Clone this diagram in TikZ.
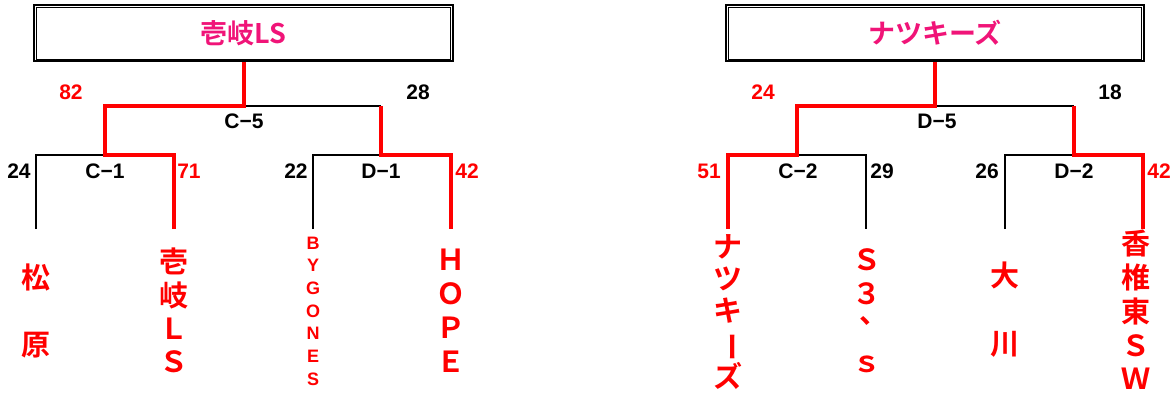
\documentclass[tikz,border=0pt]{standalone}
\usepackage{fontspec}
\usepackage{graphicx}
\setmainfont{Liberation Sans}
\newfontfamily\cjkb{Noto Sans CJK JP Bold}
\definecolor{titlepink}{RGB}{240,20,120}
\newcommand{\vchoon}{\rotatebox[origin=c]{-90}{ー}}
\newcommand{\vtouten}{\makebox[1em][l]{\hspace{0.25em}\raisebox{0.52em}{、}}}
\tikzset{
  blk/.style={line width=2pt, black},
  rd/.style={line width=4pt, red},
  titlebox/.style={draw, line width=2pt, inner sep=0pt, minimum height=56pt,
     text=titlepink, font=\cjkb\fontsize{27}{30}\selectfont},
  innerframe/.style={line width=1pt},
  score/.style={inner sep=0pt, font=\fontsize{21}{21}\selectfont\bfseries},
  win/.style={score, text=red},
  team/.style={align=center, inner sep=0pt, text=red},
  cjkteam/.style={team, font=\cjkb\fontsize{29}{#1}\selectfont},
}
\begin{document}
\begin{tikzpicture}[x=1pt,y=-1pt]
\useasboundingbox (0,0) rectangle (1176,392);

% ---------- left bracket ----------
\node[titlebox, minimum width=418.6pt] (tA) at (243.5,33.2) {壱岐LS};
\draw[innerframe] ([shift={(3,3)}]tA.north west) rectangle ([shift={(-3,-3)}]tA.south east);

\coordinate (A5L) at (105,106);
\coordinate (A5R) at (381,106);
\coordinate (A5) at (tA.south |- A5L);
\coordinate (A1L) at (36,155);
\coordinate (A1M) at (105,155);
\coordinate (A1R) at (174,155);
\coordinate (A2L) at (313,155);
\coordinate (A2M) at (381,155);
\coordinate (A2R) at (451,155);
\coordinate (A1Lb) at (36,229);
\coordinate (A1Rb) at (174,229);
\coordinate (A2Lb) at (313,229);
\coordinate (A2Rb) at (451,229);

\draw[blk] (A5) -- (A5R);
\draw[blk] (A1Lb) -- (A1L) -- (A1M);
\draw[blk] (A2Lb) -- (A2L) -- (A2M);
\draw[rd] (tA.south) -- (A5) -- (A5L) -- (A1M) -- (A1R) -- (A1Rb);
\draw[rd] (A5R) -- (A2M) -- (A2R) -- (A2Rb);

\node[win] (sA82) at (71,92) {82};
\node[score] (sA28) at (418,92) {28};
\node[score] (gC5) at (244,121) {C−5};
\node[score] (sA24) at (19,171) {24};
\node[score] (gC1) at (105,171) {C−1};
\node[win] (sA71) at (189,171) {71};
\node[score] (sA22) at (296,171) {22};
\node[score] (gD1) at (381,171) {D−1};
\node[win] (sA42) at (467,171) {42};

\node[cjkteam=67] (tmMatsu) at (36,310.5) {松\\原};
\node[cjkteam=33.3] (tmIki) at (174,310.5) {壱\\岐\\Ｌ\\Ｓ};
\node[team, font=\fontsize{18}{22.7}\selectfont\bfseries] (tmBygones) at (313,311) {B\\Y\\G\\O\\N\\E\\S};
\node[cjkteam=34] (tmHope) at (451,310.5) {Ｈ\\Ｏ\\Ｐ\\Ｅ};

% ---------- right bracket ----------
\node[titlebox, minimum width=417.5pt] (tB) at (935,33.2) {ナツキーズ};
\draw[innerframe] ([shift={(3,3)}]tB.north west) rectangle ([shift={(-3,-3)}]tB.south east);

\coordinate (B5L) at (797,106);
\coordinate (B5R) at (1074,106);
\coordinate (B5) at (tB.south |- B5L);
\coordinate (B1L) at (728,155);
\coordinate (B1M) at (797,155);
\coordinate (B1R) at (866,155);
\coordinate (B2L) at (1005,155);
\coordinate (B2M) at (1074,155);
\coordinate (B2R) at (1143,155);
\coordinate (B1Lb) at (728,229);
\coordinate (B1Rb) at (866,229);
\coordinate (B2Lb) at (1005,229);
\coordinate (B2Rb) at (1143,229);

\draw[blk] (B5) -- (B5R);
\draw[blk] (B1M) -- (B1R) -- (B1Rb);
\draw[blk] (B2Lb) -- (B2L) -- (B2M);
\draw[rd] (tB.south) -- (B5) -- (B5L) -- (B1M) -- (B1L) -- (B1Lb);
\draw[rd] (B5R) -- (B2M) -- (B2R) -- (B2Rb);

\node[win] (sB24) at (763,92) {24};
\node[score] (sB18) at (1110,92) {18};
\node[score] (gD5) at (937,121) {D−5};
\node[win] (sB51) at (709,171) {51};
\node[score] (gC2) at (798,171) {C−2};
\node[score] (sB29) at (882,171) {29};
\node[score] (sB26) at (987,171) {26};
\node[score] (gD2) at (1074,171) {D−2};
\node[win] (sB42) at (1159,171) {42};

\node[cjkteam=32] (tmNatsu) at (728,312) {ナ\\ツ\\キ\\\vchoon\\ズ};
\node[cjkteam=34] (tmS3) at (867,310.5) {Ｓ\\３\\\vtouten\\ｓ};
\node[cjkteam=68] (tmOkawa) at (1005,310) {大\\川};
\node[cjkteam=33.75] (tmKashii) at (1136,310) {香\\椎\\東\\Ｓ\\Ｗ};
\end{tikzpicture}
\end{document}
